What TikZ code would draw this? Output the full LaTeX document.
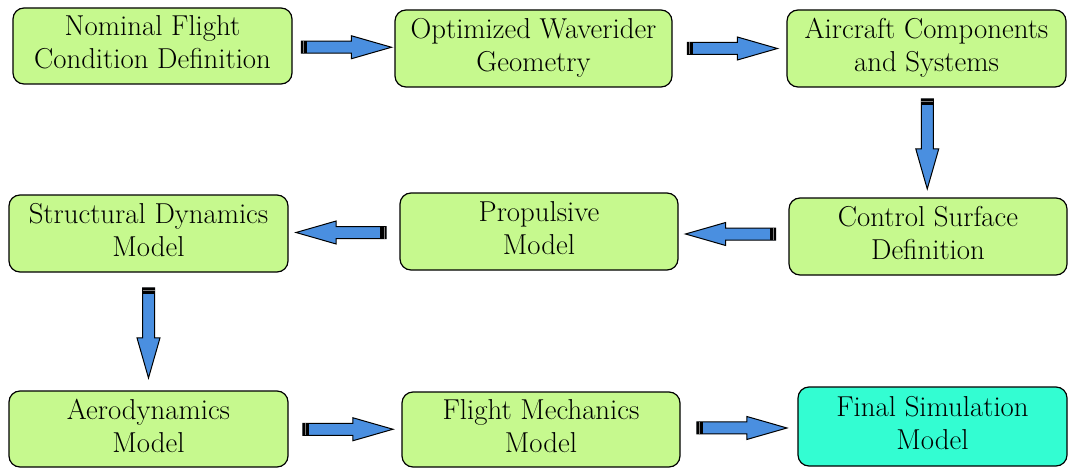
\documentclass[tikz,border=0pt]{standalone}
\usetikzlibrary{shapes.arrows,calc}
\definecolor{boxgreen}{HTML}{C6F98E}
\definecolor{boxcyan}{HTML}{33FDD2}
\definecolor{arrowblue}{HTML}{4A8FE0}
\tikzset{
  box/.style={draw=black, line width=1.2pt, rounded corners=11pt, fill=boxgreen,
    align=center, inner sep=0pt, text depth=7pt, font=\fontsize{28.8}{33}\selectfont},
  fatarrow/.style={single arrow, draw=black, line width=1pt, fill=arrowblue,
    minimum height=90pt, inner sep=5.5pt, single arrow head extend=5.5pt,
    single arrow tip angle=32, outer sep=0pt},
  toright/.style={shape border rotate=0, xshift=-7.5pt},
  toleft/.style={shape border rotate=180, xshift=7.5pt},
  todown/.style={shape border rotate=270, yshift=9pt},
}
\newcommand\arrowtail[1]{%
  \coordinate (#1-p) at ($(#1.tail)!6pt!(#1.tip)$);
  \fill[black] (#1.before tail) -- (#1.after tail)
    -- ($(#1-p)+(#1.after tail)-(#1.tail)$)
    -- ($(#1-p)+(#1.before tail)-(#1.tail)$) -- cycle;
  \coordinate (#1-q) at ($(#1.tail)!2pt!(#1.tip)$);
  \draw[gray, line width=0.6pt] ($(#1-q)+(#1.after tail)-(#1.tail)$)
    -- ($(#1-q)+(#1.before tail)-(#1.tail)$);
}
\begin{document}
\begin{tikzpicture}[x=1pt,y=-1pt]
\useasboundingbox (0,0) rectangle (1070,468);
\node[box, minimum width=279pt, minimum height=76pt] (n1) at (152.5,46) {Nominal Flight\\Condition Definition};
\node[box, minimum width=277pt, minimum height=77pt] (n2) at (533.5,48.5) {Optimized Waverider\\Geometry};
\node[box, minimum width=279pt, minimum height=77pt] (n3) at (926.5,48.5) {Aircraft Components\\and Systems};
\node[box, minimum width=278pt, minimum height=77pt] (n4) at (928,236.5) {Control Surface\\Definition};
\node[box, minimum width=278pt, minimum height=77pt] (n5) at (539,231.5) {Propulsive\\Model};
\node[box, minimum width=279pt, minimum height=77pt] (n6) at (148.5,233.5) {Structural Dynamics\\Model};
\node[box, minimum width=279pt, minimum height=76pt] (n7) at (148.5,429) {Aerodynamics\\Model};
\node[box, minimum width=278pt, minimum height=75pt] (n8) at (541,429.5) {Flight Mechanics\\Model};
\node[box, fill=boxcyan, minimum width=269pt, minimum height=79pt] (n9) at (932.5,426.5) {Final Simulation\\Model};

\path (n1) -- node[fatarrow, toright, name=a1] {} (n2);
\path (n2) -- node[fatarrow, toright, name=a2] {} (n3);
\path (n3) -- node[fatarrow, todown, name=a3] {} (n4);
\path (n4) -- node[fatarrow, toleft, name=a4] {} (n5);
\path (n5) -- node[fatarrow, toleft, name=a5] {} (n6);
\path (n6) -- node[fatarrow, todown, name=a6] {} (n7);
\path (n7) -- node[fatarrow, toright, name=a7] {} (n8);
\path (n8) -- node[fatarrow, toright, name=a8] {} (n9);
\arrowtail{a1}\arrowtail{a2}\arrowtail{a3}\arrowtail{a4}
\arrowtail{a5}\arrowtail{a6}\arrowtail{a7}\arrowtail{a8}
\end{tikzpicture}
\end{document}
